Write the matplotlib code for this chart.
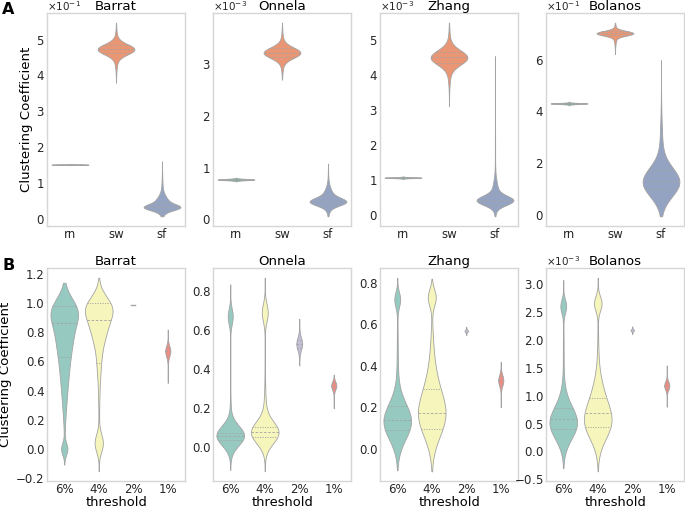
import colorsys
import numpy as np
import matplotlib
matplotlib.use('Agg')
import matplotlib.pyplot as plt
from matplotlib.ticker import ScalarFormatter

plt.rcParams['font.family'] = ['DejaVu Sans']

# ---------------------------------------------------------------- data
titles = ['Barrat', 'Onnela', 'Zhang', 'Bolanos']
top_categories = ['rn', 'sw', 'sf']
bottom_categories = ['6%', '4%', '2%', '1%']
top_exponents = [-1, -3, -3, -1]
bottom_exponents = [0, 0, 0, -3]
top_palette = ['#66c2a5', '#fc8d62', '#8da0cb']
bottom_palette = ['#8dd3c7', '#ffffb3', '#bebada', '#fb8072']

top_ticks = [[0, 1, 2, 3, 4, 5], [0, 1, 2, 3], [0, 1, 2, 3, 4, 5], [0, 2, 4, 6]]
bottom_ticks = [[-0.2, 0.0, 0.2, 0.4, 0.6, 0.8, 1.0, 1.2],
                [0.0, 0.2, 0.4, 0.6, 0.8],
                [0.0, 0.2, 0.4, 0.6, 0.8],
                [-0.5, 0.0, 0.5, 1.0, 1.5, 2.0, 2.5, 3.0]]

# Each violin: density modes (centre, spread, weight), value range,
# quartiles (q1, median, q3) and max width; values in units of 10**exponent.
# --- A: Barrat
barrat_top_modes = [[(1.52, 0.006, 1.0)],
                    [(4.73, 0.14, 0.75), (4.70, 0.32, 0.25)],
                    [(0.33, 0.08, 0.40), (0.42, 0.18, 0.50), (0.70, 0.35, 0.10)]]
barrat_top_ranges = [(1.50, 1.54), (3.80, 5.47), (0.08, 1.61)]
barrat_top_quartiles = [(1.515, 1.52, 1.525), (4.62, 4.73, 4.84), (0.25, 0.33, 0.45)]
barrat_top_widths = [0.8, 0.8, 0.8]
# --- A: Onnela
onnela_top_modes = [[(0.77, 0.012, 1.0)],
                    [(3.22, 0.10, 0.75), (3.22, 0.22, 0.25)],
                    [(0.34, 0.07, 0.50), (0.40, 0.15, 0.45), (0.60, 0.25, 0.05)]]
onnela_top_ranges = [(0.73, 0.81), (2.70, 3.80), (0.06, 1.08)]
onnela_top_quartiles = [(0.765, 0.77, 0.775), (3.13, 3.22, 3.31), (0.28, 0.36, 0.45)]
onnela_top_widths = [0.8, 0.8, 0.8]
# --- A: Zhang
zhang_top_modes = [[(1.07, 0.012, 1.0)],
                   [(4.49, 0.20, 0.75), (4.45, 0.45, 0.25)],
                   [(0.42, 0.13, 0.65), (0.60, 0.30, 0.30), (1.50, 1.00, 0.05)]]
zhang_top_ranges = [(1.03, 1.11), (3.10, 5.48), (-0.03, 4.53)]
zhang_top_quartiles = [(1.065, 1.07, 1.075), (4.33, 4.49, 4.64), (0.30, 0.44, 0.60)]
zhang_top_widths = [0.8, 0.8, 0.8]
# --- A: Bolanos
bolanos_top_modes = [[(4.30, 0.02, 1.0)],
                     [(7.02, 0.09, 0.80), (6.95, 0.25, 0.20)],
                     [(1.25, 0.55, 0.85), (2.20, 1.10, 0.15)]]
bolanos_top_ranges = [(4.22, 4.38), (6.21, 7.43), (-0.07, 5.98)]
bolanos_top_quartiles = [(4.29, 4.30, 4.31), (6.94, 7.02, 7.09), (1.00, 1.30, 1.72)]
bolanos_top_widths = [0.8, 0.8, 0.8]

# --- B: Barrat
barrat_bottom_modes = [[(0.95, 0.09, 0.30), (0.80, 0.12, 0.25), (0.60, 0.15, 0.20),
                        (0.35, 0.15, 0.08), (0.0, 0.04, 0.04)],
                       [(0.97, 0.08, 0.35), (0.83, 0.10, 0.28), (0.62, 0.12, 0.10),
                        (0.35, 0.15, 0.03), (0.04, 0.06, 0.10)],
                       None,
                       [(0.67, 0.035, 0.85), (0.62, 0.10, 0.15)]]
barrat_bottom_ranges = [(-0.107, 1.137), (-0.153, 1.172), (0.985, 0.985), (0.452, 0.817)]
barrat_bottom_quartiles = [(0.63, 0.86, 0.98), (0.59, 0.88, 1.00), None, (0.63, 0.67, 0.70)]
barrat_bottom_widths = [0.8, 0.8, 0.12, 0.15]
# --- B: Onnela
onnela_bottom_modes = [[(0.06, 0.05, 0.80), (0.10, 0.10, 0.08), (0.67, 0.04, 0.12), (0.40, 0.20, 0.02)],
                       [(0.075, 0.055, 0.70), (0.15, 0.10, 0.12), (0.69, 0.045, 0.13), (0.40, 0.20, 0.03)],
                       [(0.53, 0.03, 0.80), (0.53, 0.06, 0.20)],
                       [(0.316, 0.02, 0.85), (0.29, 0.05, 0.15)]]
onnela_bottom_ranges = [(-0.116, 0.834), (-0.123, 0.868), (0.419, 0.658), (0.20, 0.372)]
onnela_bottom_quartiles = [(0.035, 0.058, 0.075), (0.054, 0.080, 0.103), (0.51, 0.53, 0.55), (0.30, 0.316, 0.33)]
onnela_bottom_widths = [0.8, 0.8, 0.17, 0.15]
# --- B: Zhang
zhang_bottom_modes = [[(0.13, 0.085, 0.80), (0.72, 0.035, 0.07), (0.45, 0.15, 0.05), (0.25, 0.10, 0.05)],
                      [(0.15, 0.10, 0.55), (0.28, 0.12, 0.30), (0.73, 0.04, 0.08), (0.50, 0.10, 0.04)],
                      [(0.568, 0.006, 1.0)],
                      [(0.33, 0.025, 0.85), (0.32, 0.06, 0.15)]]
zhang_bottom_ranges = [(-0.104, 0.825), (-0.109, 0.82), (0.548, 0.588), (0.20, 0.42)]
zhang_bottom_quartiles = [(0.088, 0.14, 0.208), (0.096, 0.171, 0.288), None, (0.31, 0.33, 0.35)]
zhang_bottom_widths = [0.8, 0.8, 0.10, 0.15]
# --- B: Bolanos
bolanos_bottom_modes = [[(0.50, 0.28, 0.75), (0.90, 0.30, 0.10), (2.60, 0.12, 0.07), (1.80, 0.40, 0.03)],
                        [(0.50, 0.30, 0.55), (0.95, 0.35, 0.30), (2.65, 0.13, 0.08), (1.80, 0.40, 0.03)],
                        [(2.17, 0.02, 1.0)],
                        [(1.18, 0.07, 0.85), (1.15, 0.17, 0.15)]]
bolanos_bottom_ranges = [(-0.30, 3.07), (-0.355, 3.11), (2.10, 2.24), (0.80, 1.54)]
bolanos_bottom_quartiles = [(0.40, 0.59, 0.785), (0.43, 0.68, 0.96), None, (1.12, 1.18, 1.24)]
bolanos_bottom_widths = [0.8, 0.8, 0.10, 0.15]

top_panels = [
    (barrat_top_modes, barrat_top_ranges, barrat_top_quartiles, barrat_top_widths),
    (onnela_top_modes, onnela_top_ranges, onnela_top_quartiles, onnela_top_widths),
    (zhang_top_modes, zhang_top_ranges, zhang_top_quartiles, zhang_top_widths),
    (bolanos_top_modes, bolanos_top_ranges, bolanos_top_quartiles, bolanos_top_widths),
]
bottom_panels = [
    (barrat_bottom_modes, barrat_bottom_ranges, barrat_bottom_quartiles, barrat_bottom_widths),
    (onnela_bottom_modes, onnela_bottom_ranges, onnela_bottom_quartiles, onnela_bottom_widths),
    (zhang_bottom_modes, zhang_bottom_ranges, zhang_bottom_quartiles, zhang_bottom_widths),
    (bolanos_bottom_modes, bolanos_bottom_ranges, bolanos_bottom_quartiles, bolanos_bottom_widths),
]

# ---------------------------------------------------------------- style
EDGE = '#a3a3a3'
SPINE = '#d6d6d6'
TICK_FS = 8.5
LABEL_FS = 9.6


def desaturate(hexcolor, prop=0.75):
    r, g, b = matplotlib.colors.to_rgb(hexcolor)
    h, l, s = colorsys.rgb_to_hls(r, g, b)
    return colorsys.hls_to_rgb(h, l, s * prop)


def draw_violin(ax, pos, modes, rng, quart, width, color, scale):
    lo, hi = rng
    if modes is None:
        ax.plot([pos - width / 2, pos + width / 2], [lo * scale, lo * scale],
                color=EDGE, lw=1.0, zorder=3)
        return
    y = np.linspace(lo, hi, 400)
    dens = np.zeros_like(y)
    for c, s, w in modes:
        dens += w / s * np.exp(-0.5 * ((y - c) / s) ** 2)
    hw = dens / dens.max() * width / 2
    ax.fill_betweenx(y * scale, pos - hw, pos + hw, facecolor=color,
                     edgecolor=EDGE, lw=0.6, zorder=2)
    if quart is None:
        return
    for k, q in enumerate(quart):
        h = np.interp(q, y, hw)
        ls = (0, (3.0, 2.0)) if k == 1 else (0, (1.5, 1.5))
        ax.plot([pos - h, pos + h], [q * scale, q * scale], color=EDGE,
                lw=0.6, linestyle=ls, zorder=3)


def style_axes(ax, exponent, ticks, categories):
    scale = 10.0 ** exponent
    ax.set_xlim(-0.5, len(categories) - 0.5)
    ax.set_xticks(range(len(categories)))
    ax.set_xticklabels(categories)
    ax.set_yticks([t * scale for t in ticks])
    if exponent != 0:
        fmt = ScalarFormatter(useMathText=True)
        fmt.set_powerlimits((0, 0))
        ax.yaxis.set_major_formatter(fmt)
        # the multiplier is written as its own text, level with the title
        ax.yaxis.get_offset_text().set_visible(False)
        ax.text(0.0, 1.0 + 2.0 / ax.bbox.height,
                r'$\times\mathdefault{10^{%d}}$' % exponent,
                transform=ax.transAxes, fontsize=7.5, ha='left', va='baseline',
                color='#262626')
    ax.tick_params(axis='y', length=0, labelsize=TICK_FS, pad=1.8, colors='#262626')
    ax.tick_params(axis='x', length=0, labelsize=TICK_FS, pad=1.5, colors='#262626')
    for sp in ax.spines.values():
        sp.set_color(SPINE)
        sp.set_linewidth(1.0)


fig = plt.figure(figsize=(6.85, 5.08), dpi=100)
W, H = 685.0, 508.0
col_left = [47, 213, 380, 546]
col_w = 138
rows = [(13, 226), (268, 481)]

for j in range(4):
    # top row
    t, b = rows[0]
    ax = fig.add_axes([col_left[j] / W, 1 - b / H, col_w / W, (b - t) / H])
    modes, rngs, quarts, widths = top_panels[j]
    scale = 10.0 ** top_exponents[j]
    for i in range(len(top_categories)):
        draw_violin(ax, i, modes[i], rngs[i], quarts[i], widths[i],
                    desaturate(top_palette[i]), scale)
    style_axes(ax, top_exponents[j], top_ticks[j], top_categories)
    ax.set_title(titles[j], fontsize=LABEL_FS, pad=1.0)
    if j == 0:
        ax.set_ylabel('Clustering Coefficient', fontsize=LABEL_FS, labelpad=2)

    # bottom row
    t, b = rows[1]
    ax = fig.add_axes([col_left[j] / W, 1 - b / H, col_w / W, (b - t) / H])
    modes, rngs, quarts, widths = bottom_panels[j]
    scale = 10.0 ** bottom_exponents[j]
    for i in range(len(bottom_categories)):
        draw_violin(ax, i, modes[i], rngs[i], quarts[i], widths[i],
                    desaturate(bottom_palette[i]), scale)
    style_axes(ax, bottom_exponents[j], bottom_ticks[j], bottom_categories)
    ax.set_title(titles[j], fontsize=LABEL_FS, pad=1.0)
    ax.set_xlabel('threshold', fontsize=9.4, labelpad=-0.3)
    if j == 0:
        ax.set_ylabel('Clustering Coefficient', fontsize=LABEL_FS, labelpad=3)

fig.text(2 / W, 1 - 14 / H, 'A', fontsize=11.5, fontweight='bold')
fig.text(2 / W, 1 - 270 / H, 'B', fontsize=11.5, fontweight='bold')

fig.savefig('out.png', dpi=100)
